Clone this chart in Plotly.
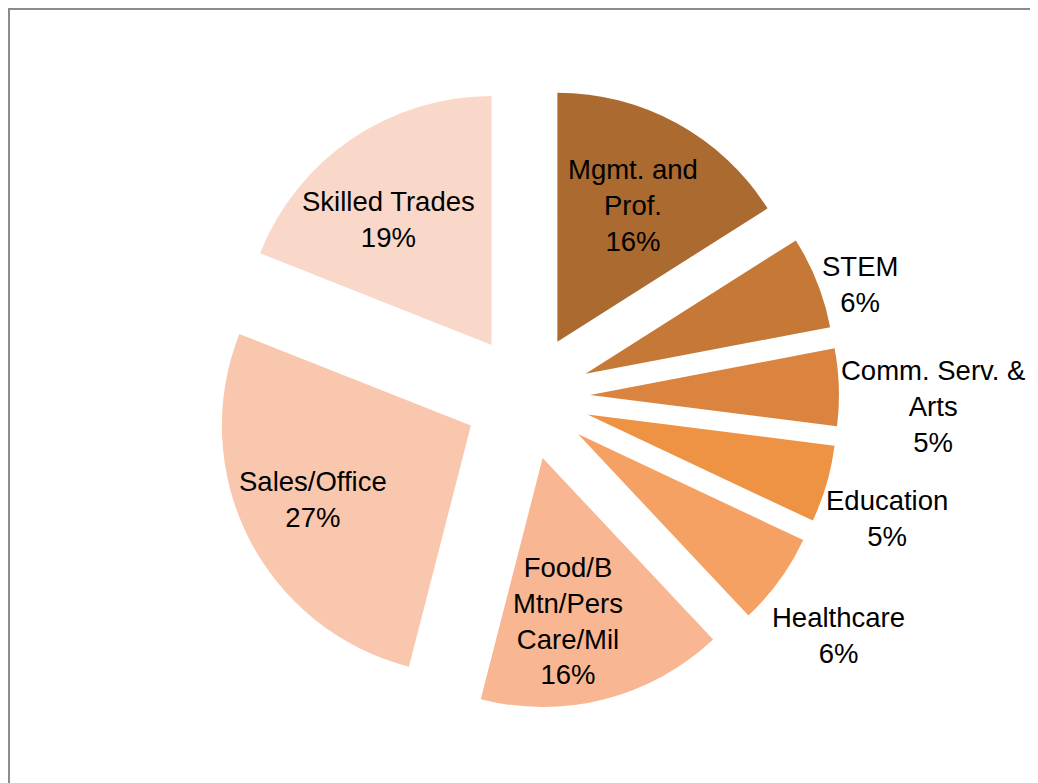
import math
import plotly.graph_objects as go

labels = ["Mgmt. and<br>Prof.", "STEM", "Comm. Serv. &<br>Arts", "Education",
          "Healthcare", "Food/B<br>Mtn/Pers<br>Care/Mil", "Sales/Office", "Skilled Trades"]
values = [16, 6, 5, 5, 6, 16, 27, 19]
colors = ["#AB6A2F", "#C67836", "#DB843F", "#EE9244",
          "#F6A164", "#F8B692", "#F9C7AE", "#FAD8C9"]

# label placement (layout only): distance from pie centre in px and angle tweak in degrees
label_dist = [219, 352, 406, 380, 392, 228, 237, 225]
label_dang = [0.0, 2.9, 3.2, 2.4, 1.4, 4.0, 1.5, -3.9]

W, H = 1030, 775
cx, cy = 519, 389      # pie centre in px (paper)
dom = 624              # pie domain height in px
pull = 0.253

fig = go.Figure(go.Pie(
    labels=labels,
    values=values,
    sort=False,
    direction="clockwise",
    rotation=0,
    pull=[pull] * len(values),
    marker=dict(colors=colors, line=dict(width=0)),
    textinfo="none",
    showlegend=False,
    hoverinfo="label+percent",
    domain=dict(x=[(cx - 380) / W, (cx + 380) / W],
                y=[1 - (cy + dom / 2) / H, 1 - (cy - dom / 2) / H]),
))

total = sum(values)
cum = 0
for lab, v, dist, dang in zip(labels, values, label_dist, label_dang):
    mid = (cum + v / 2) / total * 360 + dang
    cum += v
    a = math.radians(mid)
    px = cx + dist * math.sin(a)
    py = cy - dist * math.cos(a)
    fig.add_annotation(
        x=px / W, y=1 - py / H, xref="paper", yref="paper",
        text=f"{lab}<br>{round(v / total * 100)}%",
        showarrow=False, xanchor="center", yanchor="middle", align="center",
        font=dict(family="Liberation Sans, Arial", size=27.5, color="black"),
    )

fig.add_shape(type="rect", xref="paper", yref="paper",
              x0=1 / W, x1=1 + 6 / W, y0=-6 / H, y1=1 - 1 / H,
              line=dict(color="#8C8C8C", width=2), fillcolor="rgba(0,0,0,0)")

fig.update_layout(
    width=W, height=H,
    margin=dict(l=0, r=0, t=0, b=0, autoexpand=False),
    paper_bgcolor="white",
    plot_bgcolor="white",
)

fig.write_html("out.html",
               post_script="document.documentElement.style.overflow='hidden';"
                           "document.body.style.overflow='hidden';")
